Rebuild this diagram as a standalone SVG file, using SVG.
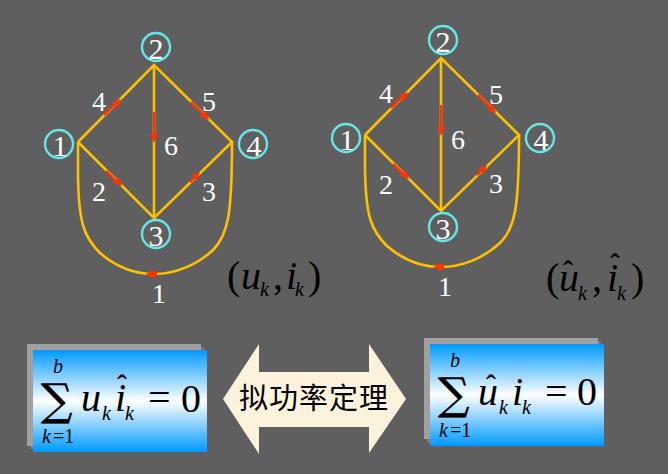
<svg xmlns="http://www.w3.org/2000/svg" width="668" height="474" viewBox="0 0 668 474">
<style>
.e{fill:none;stroke:#ffc000;stroke-width:2.6}
.c{fill:none;stroke:#66e6e6;stroke-width:2.4}
.r{stroke:#ff3300;stroke-width:2.6;fill:none}
.h{fill:#ff3300}
.w{font-family:"Liberation Serif",serif;font-size:28px;fill:#fff;text-anchor:middle}
.n{font-size:30px}
.m{font-family:"Liberation Serif",serif;fill:#000;font-size:40px}
.i{font-style:italic}
.s{font-style:italic;font-size:20px}
.t{font-size:20px}
.a{font-weight:bold;font-size:30px}
.g{font-family:"DejaVu Serif",serif;font-size:44px;stroke:#000;stroke-width:.5}
</style>
<defs>
<linearGradient id="b" x1="0" y1="0" x2="0" y2="1">
<stop offset="0" stop-color="#0099ff"/><stop offset="0.5" stop-color="#ffffff"/><stop offset="1" stop-color="#0099ff"/>
</linearGradient>
<g id="graph">
<path class="e" d="M78 142L154 65L232 142L154 218L78 142M154 65V218M78 142V170C78 225 85 238 100 253C115 266 133 274 154 274C175 274 197 265 213 250C228 235 232 215 232 142"/>
<path class="r" d="M104 115L117 102"/><path class="h" d="M121 99L112 102L118 108Z"/>
<path class="r" d="M191 102L204 115"/><path class="h" d="M209 120L206 111L200 117Z"/>
<path class="r" d="M154 112V136"/><path class="h" d="M154 143L158 134H150Z"/>
<path class="r" d="M106 171L117 182"/><path class="h" d="M122 186L119 177L113 183Z"/>
<path class="r" d="M190 182L196 176"/><path class="h" d="M200 172L191 175L197 181Z"/>
<path class="h" d="M146 274L153 270L157 272.500V275.500L153 278Z"/>
</g>
</defs>
<rect width="668" height="474" fill="#5f5f5f"/>
<g id="connectors">
<use href="#graph"/>
<use href="#graph" x="287" y="-7"/>
</g>
<g id="n1"><circle class="c" cx="59" cy="144" r="14"/><text class="w n" x="60" y="156">1</text></g>
<g id="n2"><circle class="c" cx="156" cy="47" r="14"/><text class="w n" x="156" y="59">2</text></g>
<g id="n3"><circle class="c" cx="156" cy="234" r="14"/><text class="w n" x="156" y="246">3</text></g>
<g id="n4"><circle class="c" cx="253" cy="144" r="14"/><text class="w n" x="254" y="156">4</text></g>
<g id="labels1">
<text class="w" x="99" y="111">4</text><text class="w" x="209" y="111">5</text><text class="w" x="171" y="155">6</text><text class="w" x="99" y="201">2</text><text class="w" x="209" y="201">3</text><text class="w" x="159" y="303">1</text>
</g>
<g id="m1"><circle class="c" cx="346" cy="138" r="14"/><text class="w n" x="347" y="150">1</text></g>
<g id="m2"><circle class="c" cx="443" cy="40" r="14"/><text class="w n" x="443" y="52">2</text></g>
<g id="m3"><circle class="c" cx="443" cy="227" r="14"/><text class="w n" x="443" y="239">3</text></g>
<g id="m4"><circle class="c" cx="540" cy="138" r="14"/><text class="w n" x="541" y="150">4</text></g>
<g id="labels2">
<text class="w" x="386" y="103">4</text><text class="w" x="496" y="104">5</text><text class="w" x="458" y="149">6</text><text class="w" x="386" y="194">2</text><text class="w" x="496" y="193">3</text><text class="w" x="445" y="296">1</text>
</g>
<g id="pair1" class="m">
<text x="227" y="289">(</text><text class="i" x="241" y="289">u</text><text class="s" x="260" y="296">k</text><text x="273" y="289">,</text><text class="i" x="286" y="289">i</text><text class="s" x="295" y="296">k</text><text x="308" y="289">)</text>
</g>
<g id="pair2" class="m">
<text x="546" y="291">(</text><text class="i" x="559" y="291">u</text><text class="a" x="563" y="281">ˆ</text><text class="s" x="578" y="300">k</text><text x="592" y="291">,</text><text class="i" x="607" y="291">i</text><text class="a" x="610" y="274">ˆ</text><text class="s" x="617" y="300">k</text><text x="631" y="291">)</text>
</g>
<g id="box1">
<rect x="30" y="347" width="174" height="102" fill="#7a7a7a"/>
<rect x="27" y="344" width="174" height="102" fill="#a0a0a0"/>
<rect x="33" y="350" width="174" height="102" fill="url(#b)"/>
<g class="m">
<text class="g" x="41" y="415">∑</text>
<text class="s" x="53" y="373">b</text>
<text class="s" x="42" y="443">k</text><text class="t" x="53" y="443">=1</text>
<text class="i" x="81" y="411">u</text><text class="s" x="102" y="420">k</text>
<text class="i" x="115" y="411">i</text><text class="a" x="117" y="395">ˆ</text><text class="s" x="125" y="420">k</text>
<text x="148" y="411">=</text><text x="181" y="412">0</text>
</g>
</g>
<g id="box2">
<rect x="427" y="341" width="174" height="102" fill="#7a7a7a"/>
<rect x="424" y="338" width="174" height="101" fill="#a0a0a0"/>
<rect x="430" y="344" width="174" height="102" fill="url(#b)"/>
<g class="m">
<text class="g" x="438" y="409">∑</text>
<text class="s" x="450" y="367">b</text>
<text class="s" x="439" y="437">k</text><text class="t" x="450" y="437">=1</text>
<text class="i" x="478" y="405">u</text><text class="a" x="486" y="395">ˆ</text><text class="s" x="499" y="414">k</text>
<text class="i" x="512" y="405">i</text><text class="s" x="522" y="414">k</text>
<text x="545" y="405">=</text><text x="577" y="405">0</text>
</g>
</g>
<g id="theorem">
<path d="M223 399L259 344V372H369V344L406 399L369 453V427H259V454Z" fill="#fdf2dc"/>
<text x="314" y="409" text-anchor="middle" font-family="Noto Sans CJK SC,sans-serif" font-size="29" letter-spacing="1" fill="#000">拟功率定理</text>
</g>
</svg>
